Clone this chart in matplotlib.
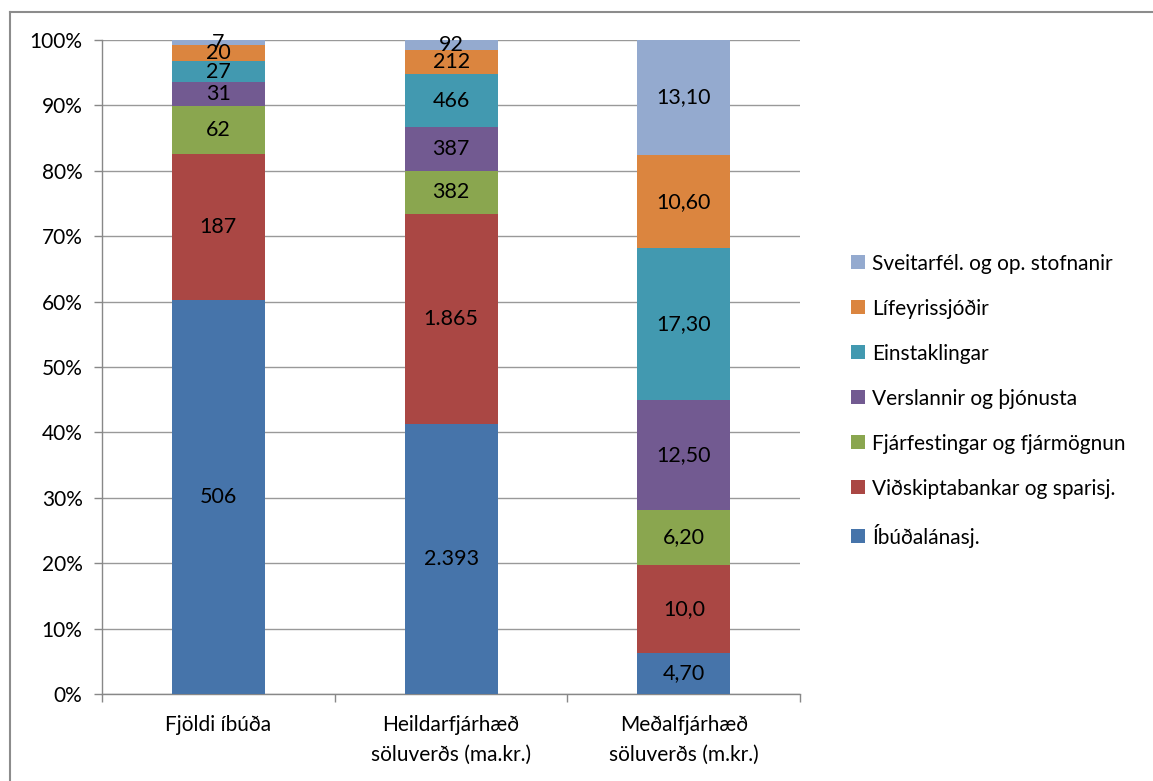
import numpy as np
import matplotlib
matplotlib.use("Agg")
import matplotlib.pyplot as plt
from matplotlib.ticker import FuncFormatter
from matplotlib.lines import Line2D

plt.rcParams["font.family"] = ["Lato", "DejaVu Sans"]

# ── Data ──────────────────────────────────────────────────────────────────────
categories = ["Fjöldi íbúða", "Heildarfjárhæð\nsöluverðs (ma.kr.)",
              "Meðalfjárhæð\nsöluverðs (m.kr.)"]
series = ["Íbúðalánasj.", "Viðskiptabankar og sparisj.",
          "Fjárfestingar og fjármögnun", "Verslannir og þjónusta",
          "Einstaklingar", "Lífeyrissjóðir", "Sveitarfél. og op. stofnanir"]
values = np.array([
    [506, 2393, 4.70],
    [187, 1865, 10.0],
    [62, 382, 6.20],
    [31, 387, 12.50],
    [27, 466, 17.30],
    [20, 212, 10.60],
    [7, 92, 13.10],
])
labels = [
    ["506", "2.393", "4,70"],
    ["187", "1.865", "10,0"],
    ["62", "382", "6,20"],
    ["31", "387", "12,50"],
    ["27", "466", "17,30"],
    ["20", "212", "10,60"],
    ["7", "92", "13,10"],
]
colors = ["#4674AA", "#AA4744", "#8AA64F", "#725A91", "#4299B0", "#DB853F", "#94AACF"]

# ── Plot ──────────────────────────────────────────────────────────────────────
fig = plt.figure(figsize=(11.53, 7.81), dpi=100, facecolor="white")
ax = fig.add_axes([0.0885, 0.1114, 0.6055, 0.8374])

shares = values / values.sum(axis=0)
x = np.arange(len(categories))
bottom = np.zeros(len(categories))
for i, name in enumerate(series):
    ax.bar(x, shares[i], bottom=bottom, width=0.40, color=colors[i],
           label=name, zorder=3)
    for j in range(len(categories)):
        ax.text(x[j], bottom[j] + shares[i, j] / 2, labels[i][j],
                ha="center", va="center", fontsize=15.5, color="black", zorder=4)
    bottom += shares[i]

ax.set_xlim(-0.5, len(categories) - 0.5)
ax.set_ylim(0, 1)
ax.set_yticks(np.linspace(0, 1, 11))
ax.yaxis.set_major_formatter(FuncFormatter(lambda v, _: f"{v * 100:.0f}%"))
ax.grid(axis="y", color="#999999", linewidth=1.0, zorder=0)

ax.set_xticks(x)
ax.set_xticklabels(categories, fontsize=15, linespacing=1.6)
ax.set_xticks(np.arange(-0.5, len(categories)), minor=True)
ax.tick_params(axis="x", which="major", length=0, pad=15)
ax.tick_params(axis="x", which="minor", length=6, color="#888888", width=1)
ax.tick_params(axis="y", length=6, color="#888888", width=1, labelsize=15, pad=8)

for side in ["top", "right"]:
    ax.spines[side].set_visible(False)
for side in ["left", "bottom"]:
    ax.spines[side].set_color("#888888")
    ax.spines[side].set_linewidth(1.0)

handles, names = ax.get_legend_handles_labels()
leg = fig.legend(handles[::-1], names[::-1], loc="center left",
                 bbox_to_anchor=(0.722, 0.487), frameon=False, fontsize=15,
                 handlelength=0.65, handleheight=0.65, handletextpad=0.35,
                 labelspacing=1.2)

# chart frame: top and left edges
frame_kw = dict(transform=fig.transFigure, color="#8C8C8C", linewidth=1.5)
fig.add_artist(Line2D([0.0087, 1.0], [0.9846, 0.9846], **frame_kw))
fig.add_artist(Line2D([0.0087, 0.0087], [0.0, 0.9846], **frame_kw))

fig.savefig("out.png", dpi=100, facecolor="white")
